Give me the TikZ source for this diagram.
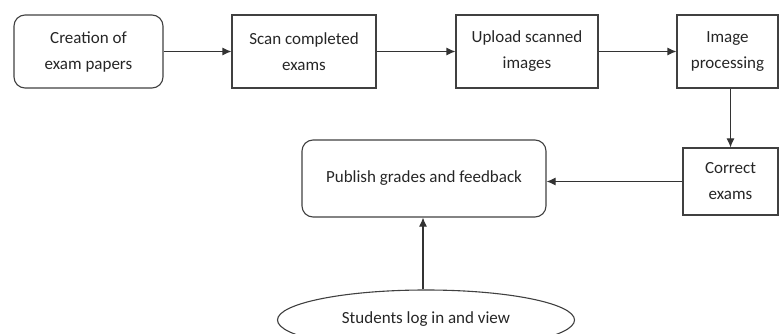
\documentclass[tikz,border=0pt]{standalone}
\usepackage{fontspec}
\setmainfont{Carlito}
\usetikzlibrary{arrows.meta,shapes.geometric}
\tikzset{stage/.style={draw=black!75, line width=1.1pt, align=center,
         text=black!85, font=\fontsize{17}{26}\selectfont, inner sep=0pt},
         rstage/.style={stage, rounded corners=11pt},
         flow/.style={draw=black!80, line width=1.1pt, -{Latex[length=9pt,width=8pt]}}}

\begin{document}
\begin{tikzpicture}[x=1pt,y=-1pt]
  \useasboundingbox (0,0) rectangle (779,334);
  \clip (0,0) rectangle (779,334);

  \node[rstage, minimum width=149pt, minimum height=73pt] (create) at (88.5,51.5) {Creation of\\exam papers};
  \node[stage, minimum width=144pt, minimum height=73pt] (scan) at (304,51.5) {Scan completed\\exams};
  \node[stage, minimum width=142pt, minimum height=73pt] (upload) at (527,51.5) {Upload scanned\\images};
  \node[stage, minimum width=101pt, minimum height=73pt] (process) at (727.5,51.5) {Image\\processing};
  \node[stage, minimum width=95pt, minimum height=67pt] (correct) at (730.5,181.5) {Correct\\exams};
  \node[rstage, minimum width=244pt, minimum height=77pt] (publish) at (424,178.5) {Publish grades and feedback};
  \node[stage, ellipse, minimum width=297pt, minimum height=60pt] (students) at (426,320) {\raisebox{5pt}{Students log in and view}};

  \draw[flow] (create) -- (scan);
  \draw[flow] (scan) -- (upload);
  \draw[flow] (upload) -- (process);
  \draw[flow] (process.south -| correct) -- (correct.north);
  \draw[flow] (correct.west) -- (correct.west -| publish.east);
  \draw[flow] (students.north -| 423,0) -- (publish.south -| 423,0);

\end{tikzpicture}
\end{document}
